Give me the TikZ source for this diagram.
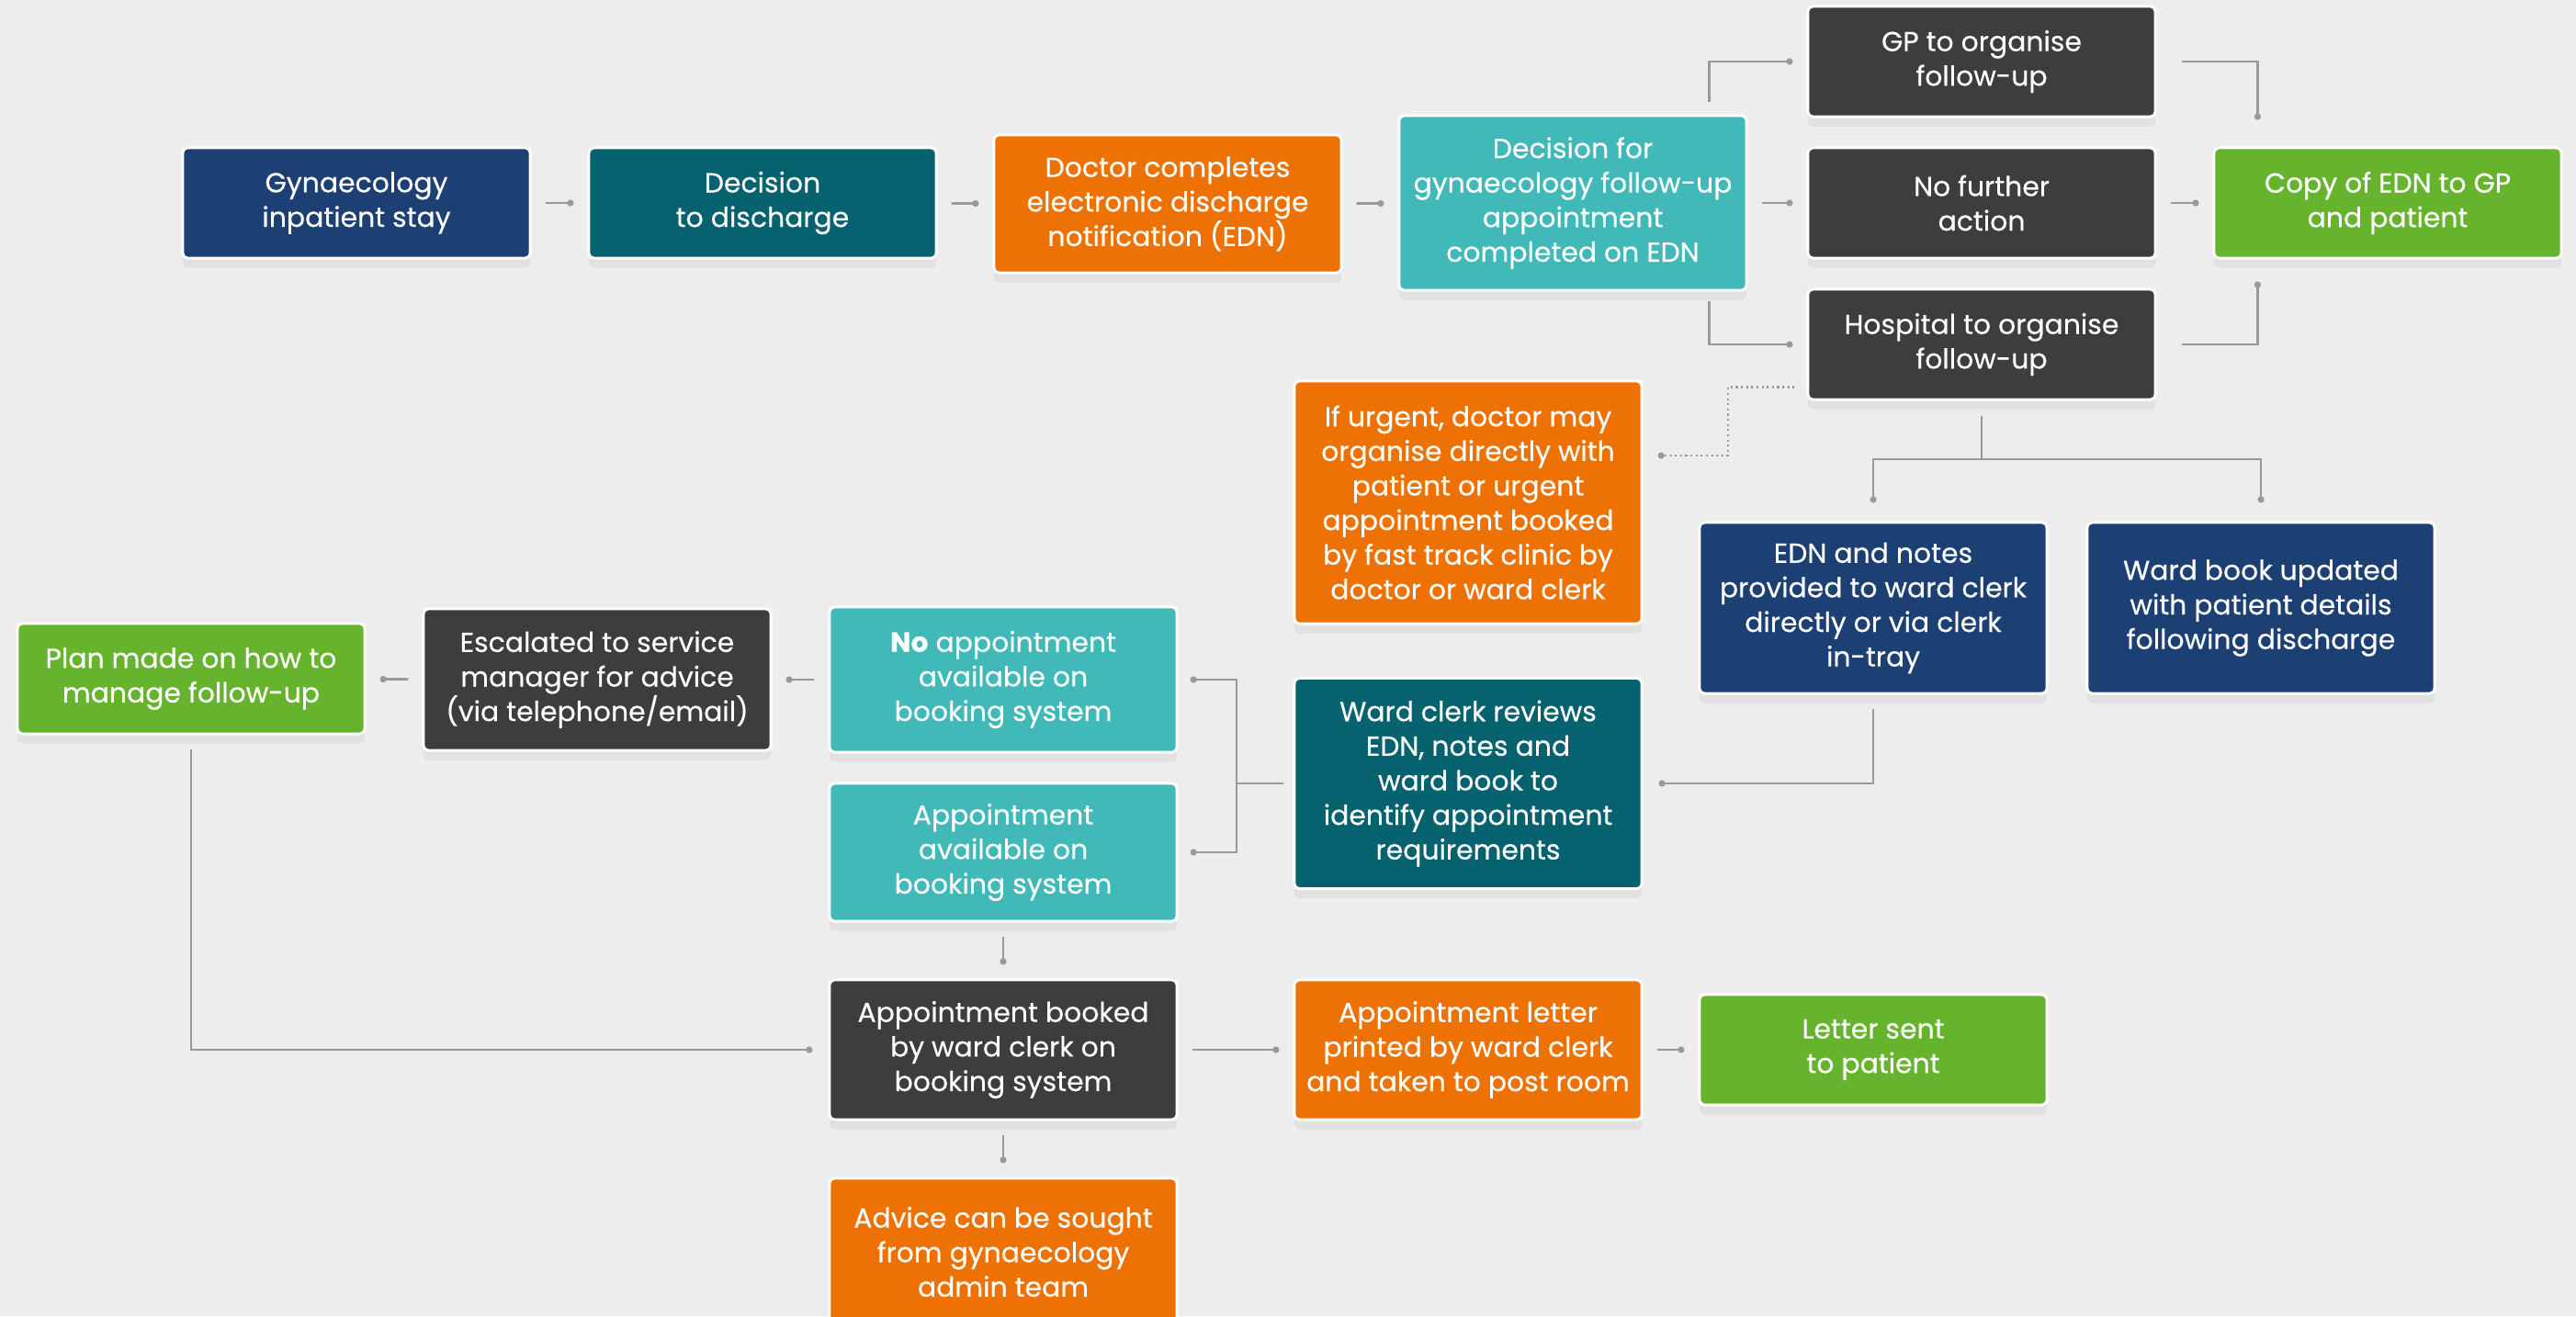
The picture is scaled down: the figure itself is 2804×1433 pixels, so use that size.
\documentclass[tikz,border=0pt]{standalone}
\usepackage{fontspec}
\setmainfont{Poppins}[FakeBold=0.35]
\usetikzlibrary{arrows.meta}
\usetikzlibrary{shadows}

\definecolor{bggray}{HTML}{EDEDED}
\definecolor{linegray}{HTML}{999999}
\definecolor{cnavy}{HTML}{1C3F74}
\definecolor{cdteal}{HTML}{05626E}
\definecolor{corange}{HTML}{EE7203}
\definecolor{clteal}{HTML}{42B9B9}
\definecolor{cgrey}{HTML}{3D3D3C}
\definecolor{cgreen}{HTML}{66B32E}

\begin{document}
\begin{tikzpicture}[x=0.01cm, y=-0.01cm, >={Circle[length=2pt]},
  box/.style={draw=white, line width=0.85pt, rounded corners=1.5pt, text=white,
    align=center, minimum width=3.78cm, inner sep=2pt,
    font=\fontsize{8.5}{10.7}\selectfont,
    drop shadow={shadow xshift=0pt, shadow yshift=-3pt, opacity=0.1}},
  navybox/.style={box, fill=cnavy},
  dtealbox/.style={box, fill=cdteal},
  orangebox/.style={box, fill=corange},
  ltealbox/.style={box, fill=clteal},
  greybox/.style={box, fill=cgrey},
  greenbox/.style={box, fill=cgreen},
  link/.style={->, line width=0.8pt, draw=linegray, shorten <=0.15cm, shorten >=0.15cm},
  trunk/.style={line width=0.8pt, draw=linegray},
  dotlink/.style={->, line width=0.6pt, draw=linegray, densely dotted, shorten >=0.16cm}]

  % canvas
  \useasboundingbox (0,0) rectangle (2804,1433);
  \fill[bggray] (0,0) rectangle (2804,1433);

  % top row
  \node[navybox, minimum height=1.2cm] (inpat) at (388,221) {Gynaecology\\inpatient stay};
  \node[dtealbox, minimum height=1.2cm] (decide) at (830,221) {Decision\\to discharge};
  \node[orangebox, minimum height=1.5cm] (edn) at (1271,222) {Doctor completes\\electronic discharge\\notification (EDN)};
  \node[ltealbox, minimum height=1.9cm] (fudecide) at (1712,221) {Decision for\\gynaecology follow-up\\appointment\\completed on EDN};
  \node[greybox, minimum height=1.2cm] (gp) at (2157,67) {GP to organise\\follow-up};
  \node[greybox, minimum height=1.2cm] (nofurther) at (2157,221) {No further\\action};
  \node[greybox, minimum height=1.2cm] (hospital) at (2157,375) {Hospital to organise\\follow-up};
  \node[greenbox, minimum height=1.2cm] (copy) at (2599,221) {Copy of EDN to GP\\and patient};

  % middle
  \node[orangebox, minimum height=2.64cm] (urgent) at (1598,547) {If urgent, doctor may\\organise directly with\\patient or urgent\\appointment booked\\by fast track clinic by\\doctor or ward clerk};
  \node[navybox, minimum height=1.86cm] (notes) at (2039,662) {EDN and notes\\provided to ward clerk\\directly or via clerk\\in-tray};
  \node[navybox, minimum height=1.86cm] (wardbook) at (2461,662) {Ward book updated\\with patient details\\following discharge};
  \node[greenbox, minimum height=1.2cm] (plan) at (208,739) {Plan made on how to\\manage follow-up};
  \node[greybox, minimum height=1.54cm] (escalate) at (650,740) {Escalated to service\\manager for advice\\(via telephone/email)};
  \node[ltealbox, minimum height=1.58cm] (noappt) at (1092,740) {\textbf{No} appointment\\available on\\booking system};
  \node[ltealbox, minimum height=1.5cm] (avail) at (1092,928) {Appointment\\available on\\booking system};
  \node[dtealbox, minimum height=2.29cm] (review) at (1598,853) {Ward clerk reviews\\EDN, notes and\\ward book to\\identify appointment\\requirements};

  % bottom row
  \node[greybox, minimum height=1.52cm] (booked) at (1092,1143) {Appointment booked\\by ward clerk on\\booking system};
  \node[orangebox, minimum height=1.52cm] (letter) at (1598,1143) {Appointment letter\\printed by ward clerk\\and taken to post room};
  \node[greenbox, minimum height=1.2cm] (sent) at (2039,1143) {Letter sent\\to patient};
  \node[orangebox, minimum height=1.6cm] (advice) at (1092,1363) {Advice can be sought\\from gynaecology\\admin team};

  % top row links
  \draw[link] (inpat) -- (decide);
  \draw[link] (decide) -- (edn);
  \draw[link] (edn) -- (fudecide);
  \draw[link] (fudecide) -- (nofurther);
  \draw[link] (nofurther) -- (copy);
  \draw[link, shorten <=0.13cm] ([xshift=-0.42cm]fudecide.north east) |- (gp.west);
  \draw[link, shorten <=0.1cm] ([xshift=-0.42cm]fudecide.south east) |- (hospital.west);
  \draw[link, shorten <=0.27cm, shorten >=0.29cm] (gp.east) -| ([xshift=0.49cm]copy.north west);
  \draw[link, shorten <=0.27cm, shorten >=0.24cm] (hospital.east) -| ([xshift=0.49cm]copy.south west);

  % urgent route (dotted)
  \coordinate (urgbend) at (1881,496);
  \draw[dotlink] ([shift={(-13,-15)}]hospital.south west) -| (urgbend) -- (urgbend -| urgent.east);

  % hospital follow-up split
  \coordinate (split) at (2157,500);
  \draw[trunk, shorten <=0.16cm] (hospital.south) -- (split);
  \draw[link, shorten <=0cm, shorten >=0.2cm] (split) -| (notes.north);
  \draw[link, shorten <=0cm, shorten >=0.2cm] (split) -| (wardbook.north);
  \draw[link, shorten >=0.17cm] (notes.south) |- (review.east);

  % ward clerk fork
  \coordinate (fork) at (1346,853);
  \draw[trunk, shorten <=0.1cm] (review.west) -- (fork);
  \draw[link, shorten <=0cm, shorten >=0.13cm] (fork) |- (noappt.east);
  \draw[link, shorten <=0cm, shorten >=0.13cm] (fork) |- (avail.east);

  % booking
  \draw[link] (noappt) -- (escalate);
  \draw[link] (escalate) -- (plan);
  \draw[link, shorten >=0.17cm] (plan.south) |- (booked.west);
  \draw[link] (avail) -- (booked);
  \draw[link] (booked) -- (letter);
  \draw[link] (letter) -- (sent);
  \draw[link] (booked) -- (advice);
\end{tikzpicture}
\end{document}
